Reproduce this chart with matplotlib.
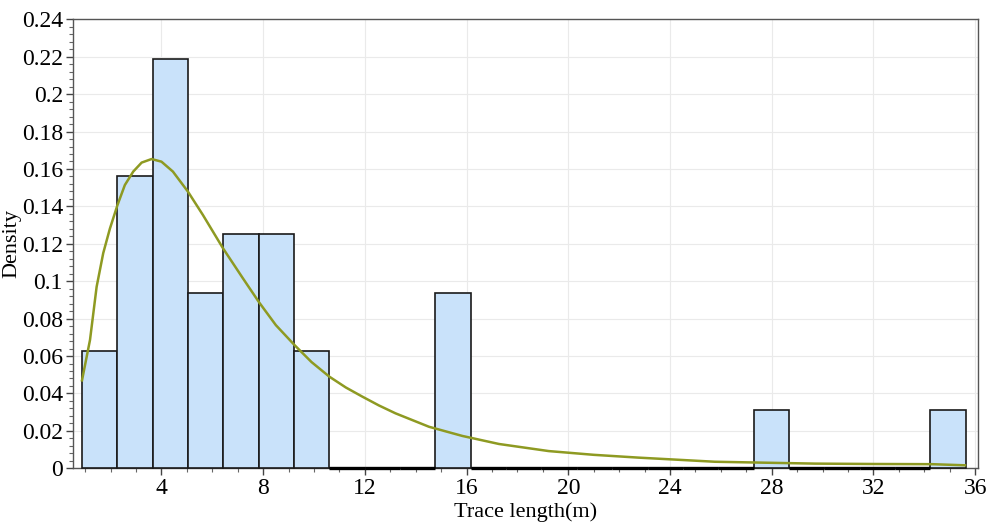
import numpy as np
import matplotlib.pyplot as plt
from matplotlib.ticker import MultipleLocator, FuncFormatter

# histogram (relative frequency per bin)
bin_start = 0.875
bin_width = 1.39
density = [0.0625, 0.15625, 0.21875, 0.09375, 0.125, 0.125, 0.0625,
           0, 0, 0, 0.09375, 0, 0, 0, 0, 0, 0, 0, 0, 0.03125,
           0, 0, 0, 0, 0.03125]

# fitted curve
fit_x = [0.875, 1.19, 1.45, 1.71, 1.97, 2.27, 2.56, 2.89, 3.22, 3.61, 4.0,
         4.45, 5.04, 5.63, 6.42, 7.2, 7.85, 8.5, 9.23, 9.9, 10.6, 11.25,
         11.9, 12.55, 13.2, 14.52, 15.83, 17.27, 19.23, 21.0, 22.76, 25.76,
         27.7, 29.7, 32.0, 34.3, 35.6]
fit_y = [0.047, 0.0686, 0.097, 0.115, 0.128, 0.1407, 0.1514, 0.1586,
         0.1634, 0.1653, 0.1639, 0.1586, 0.1479, 0.1354, 0.1176, 0.1016,
         0.0885, 0.0765, 0.0659, 0.0568, 0.049, 0.0432, 0.0383, 0.0336,
         0.0294, 0.0222, 0.0173, 0.013, 0.0092, 0.0072, 0.0057, 0.0035,
         0.003, 0.0025, 0.0023, 0.0022, 0.0016]

plt.rcParams['font.family'] = ['Liberation Serif', 'DejaVu Serif']

fig = plt.figure(figsize=(9.88, 5.27), dpi=100)
ax = fig.add_axes([0.0736, 0.1114, 0.916, 0.852])

lefts = bin_start + bin_width * np.arange(len(density))
dens = np.array(density)
ax.bar(lefts, dens, width=bin_width, align='edge', color='#C9E2FA',
       edgecolor='#1a1a1a', linewidth=1.2, zorder=2.6, clip_on=False)
# empty bins show up as a thick black line on the baseline
empty = dens == 0
ax.hlines(np.zeros(empty.sum()), lefts[empty], lefts[empty] + bin_width,
          color='black', linewidth=2.4, zorder=2.7, clip_on=False)
ax.plot(fit_x, fit_y, color='#8E9A22', linewidth=1.8, zorder=3,
        solid_joinstyle='round')

ax.set_xlim(0.51, 36.1)
ax.set_ylim(0, 0.24)
ax.xaxis.set_major_locator(MultipleLocator(4))
ax.xaxis.set_minor_locator(MultipleLocator(1))
ax.yaxis.set_major_locator(MultipleLocator(0.02))
ax.yaxis.set_minor_locator(MultipleLocator(0.004))
ax.yaxis.set_major_formatter(FuncFormatter(lambda v, p: '{:g}'.format(round(v, 4))))
ax.set_xticks(np.arange(4, 37, 4))

ax.grid(True, which='major', color='#EAEAEA', linewidth=0.8, zorder=0)
ax.set_axisbelow(True)
ax.tick_params(which='major', direction='out', length=5, width=1,
               color='#444444', labelsize=17, pad=2)
ax.tick_params(which='minor', direction='out', length=3, width=0.8,
               color='#666666')
for s in ax.spines.values():
    s.set_color('#555555')
    s.set_linewidth(1.0)

ax.set_xlabel('Trace length(m)', fontsize=16, labelpad=2)
ax.set_ylabel('Density', fontsize=16, labelpad=0)

fig.savefig('out.png', dpi=100)
